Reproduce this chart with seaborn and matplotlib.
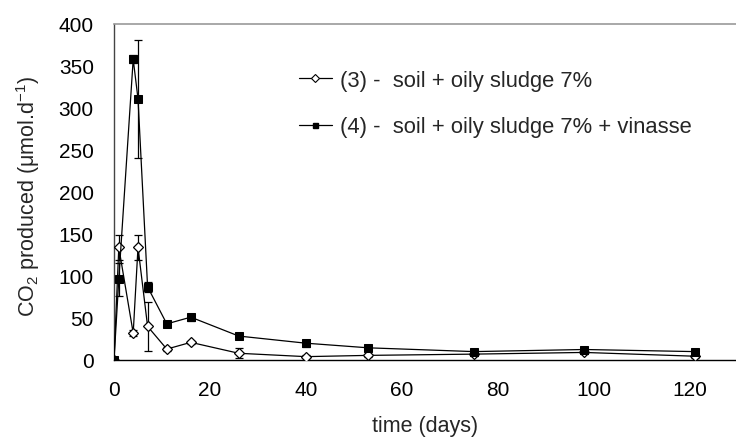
import numpy as np
import pandas as pd
import matplotlib
matplotlib.use("Agg")
import matplotlib.pyplot as plt
import seaborn as sns
from matplotlib.lines import Line2D

# ---- data ----
days = [0, 1, 4, 5, 7, 11, 16, 26, 40, 53, 75, 98, 121]
s3_vals = [0, 134, 32, 134, 40, 13, 21, 8, 4, 5.5, 7, 9, 4.5]
s3_err = [0, 15, 4, 15, 29, 2, 2, 6, 2, 2, 2, 2, 2]
s4_vals = [0, 96, 358, 311, 87, 43, 51, 28.5, 20, 14.5, 10, 12.5, 10]
s4_err = [0, 20, 5, 70, 6, 3, 4, 3, 4, 2, 2, 2, 2]
label3 = "(3) -  soil + oily sludge 7%"
label4 = "(4) -  soil + oily sludge 7% + vinasse"
x_ticks = [0, 20, 40, 60, 80, 100, 120]
y_ticks = [0, 50, 100, 150, 200, 250, 300, 350, 400]

sns.set_theme(style="white")
plt.rcParams["font.family"] = ["Liberation Sans", "DejaVu Sans"]
plt.rcParams["mathtext.fontset"] = "custom"
plt.rcParams["mathtext.rm"] = "Liberation Sans"
plt.rcParams["mathtext.it"] = "Liberation Sans:italic"

FS = 15

df = pd.DataFrame({
    "day": days * 2,
    "co2": s3_vals + s4_vals,
    "series": [label3] * len(days) + [label4] * len(days),
})

fig = plt.figure(figsize=(7.36, 4.39), dpi=100)
ax = fig.add_axes([114 / 736, 1 - 361 / 439, 1 - 114 / 736, (361 - 25) / 439])

# error bars
ax.errorbar(days, s3_vals, yerr=s3_err, fmt="none", ecolor="black",
            elinewidth=0.9, capsize=3, capthick=0.9, zorder=2)
ax.errorbar(days, s4_vals, yerr=s4_err, fmt="none", ecolor="black",
            elinewidth=0.9, capsize=3, capthick=0.9, zorder=2)

sns.lineplot(data=df, x="day", y="co2", hue="series", style="series",
             palette={label3: "black", label4: "black"},
             markers={label3: "D", label4: "s"}, dashes=False,
             linewidth=0.9, ax=ax, zorder=3, legend=False)

for ln in ax.get_lines():
    if ln.get_marker() == "D":
        ln.set_markerfacecolor("white")
        ln.set_markeredgecolor("black")
        ln.set_markersize(5)
        ln.set_markeredgewidth(0.9)
    elif ln.get_marker() == "s":
        ln.set_markerfacecolor("black")
        ln.set_markeredgecolor("black")
        ln.set_markersize(5.3)

h3 = Line2D([], [], color="black", lw=0.9, marker="D", markersize=3.6,
            markerfacecolor="white", markeredgecolor="black", markeredgewidth=0.8)
h4 = Line2D([], [], color="black", lw=0.9, marker="s", markersize=3.6,
            markerfacecolor="black", markeredgecolor="black")
fig.legend([h3, h4], [label3, label4], loc="upper left",
           bbox_to_anchor=(299 / 736, 1 - 71 / 439), frameon=False,
           fontsize=FS + 0.8, handlelength=1.5, handletextpad=0.35,
           labelspacing=1.15, borderaxespad=0, borderpad=0)

ax.set_xlim(0, 129.6)
ax.set_ylim(0, 400)
ax.set_xticks(x_ticks)
ax.set_yticks(y_ticks)
ax.tick_params(axis="both", which="both", direction="out", length=5.5,
               width=0.9, colors="black", labelsize=FS)
ax.tick_params(axis="y", pad=9)
ax.tick_params(axis="x", pad=9)
ax.set_xlabel("time (days)", fontsize=FS + 0.5)
ax.set_ylabel("CO$_2$ produced (μmol.d$^{-1}$)", fontsize=FS + 0.5)
ax.xaxis.set_label_coords(0.5, -(416 - 361) / 336)
ax.yaxis.set_label_coords((42 - 114) / 622, 0.49)

ax.spines["bottom"].set_color("black")
ax.spines["bottom"].set_linewidth(1.0)
ax.spines["left"].set_color("#444444")
ax.spines["left"].set_linewidth(1.0)
ax.spines["right"].set_visible(False)
ax.spines["top"].set_color("#999999")
ax.spines["top"].set_linewidth(1.2)
ax.grid(False)

fig.savefig("out.png", dpi=100)
